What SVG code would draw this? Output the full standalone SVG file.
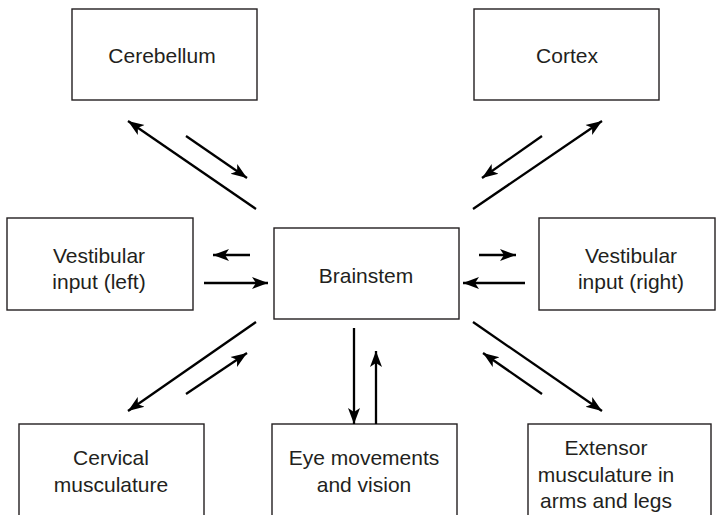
<svg xmlns="http://www.w3.org/2000/svg" width="716" height="515" viewBox="0 0 716 515">
<style>
.box{fill:#fff;stroke:#231f20;stroke-width:1.4}
.lbl{font-family:"Liberation Sans",Arial,sans-serif;font-size:21px;fill:#231f20;text-anchor:middle}
.arr{stroke:#000;stroke-width:2.3;fill:none;marker-end:url(#ah)}
</style>
<defs>
<marker id="ah" markerUnits="userSpaceOnUse" markerWidth="18" markerHeight="14" refX="16" refY="7" orient="auto">
<path d="M0,1 L16,7 L0,13 L4,7 z" fill="#000"/>
</marker>
</defs>
<rect width="716" height="515" fill="#fff"/>
<g id="cerebellum"><rect class="box" x="72" y="9" width="185" height="91"/><text class="lbl" x="162" y="63">Cerebellum</text></g>
<g id="cortex"><rect class="box" x="474" y="9" width="185" height="91"/><text class="lbl" x="567" y="63">Cortex</text></g>
<g id="vest-left"><rect class="box" x="7" y="218" width="186" height="92"/><text class="lbl" x="99" y="263">Vestibular</text><text class="lbl" x="99" y="289">input (left)</text></g>
<g id="brainstem"><rect class="box" x="274" y="228" width="185" height="91"/><text class="lbl" x="366" y="283">Brainstem</text></g>
<g id="vest-right"><rect class="box" x="539" y="218" width="176" height="92"/><text class="lbl" x="631" y="263">Vestibular</text><text class="lbl" x="631" y="289">input (right)</text></g>
<g id="cervical"><rect class="box" x="19" y="424" width="185" height="100"/><text class="lbl" x="111" y="465">Cervical</text><text class="lbl" x="111" y="492">musculature</text></g>
<g id="eye"><rect class="box" x="272" y="424" width="185" height="100"/><text class="lbl" x="364" y="465">Eye movements</text><text class="lbl" x="364" y="492">and vision</text></g>
<g id="extensor"><rect class="box" x="528" y="424" width="183" height="100"/><text class="lbl" x="606" y="455">Extensor</text><text class="lbl" x="606" y="482">musculature in</text><text class="lbl" x="606" y="508">arms and legs</text></g>
<g id="connectors">
<line class="arr" x1="256" y1="209" x2="128" y2="121"/>
<line class="arr" x1="186" y1="136" x2="247" y2="178"/>
<line class="arr" x1="473" y1="209" x2="602" y2="121"/>
<line class="arr" x1="542" y1="136" x2="482" y2="178"/>
<line class="arr" x1="250" y1="255" x2="213" y2="255"/>
<line class="arr" x1="204" y1="283" x2="268" y2="283"/>
<line class="arr" x1="479" y1="255" x2="516" y2="255"/>
<line class="arr" x1="525" y1="283" x2="463" y2="283"/>
<line class="arr" x1="256" y1="322" x2="128" y2="411"/>
<line class="arr" x1="186" y1="394" x2="247" y2="353"/>
<line class="arr" x1="354" y1="328" x2="354" y2="424"/>
<line class="arr" x1="376" y1="424" x2="376" y2="351"/>
<line class="arr" x1="473" y1="322" x2="602" y2="411"/>
<line class="arr" x1="542" y1="394" x2="483" y2="353"/>
</g>
</svg>
